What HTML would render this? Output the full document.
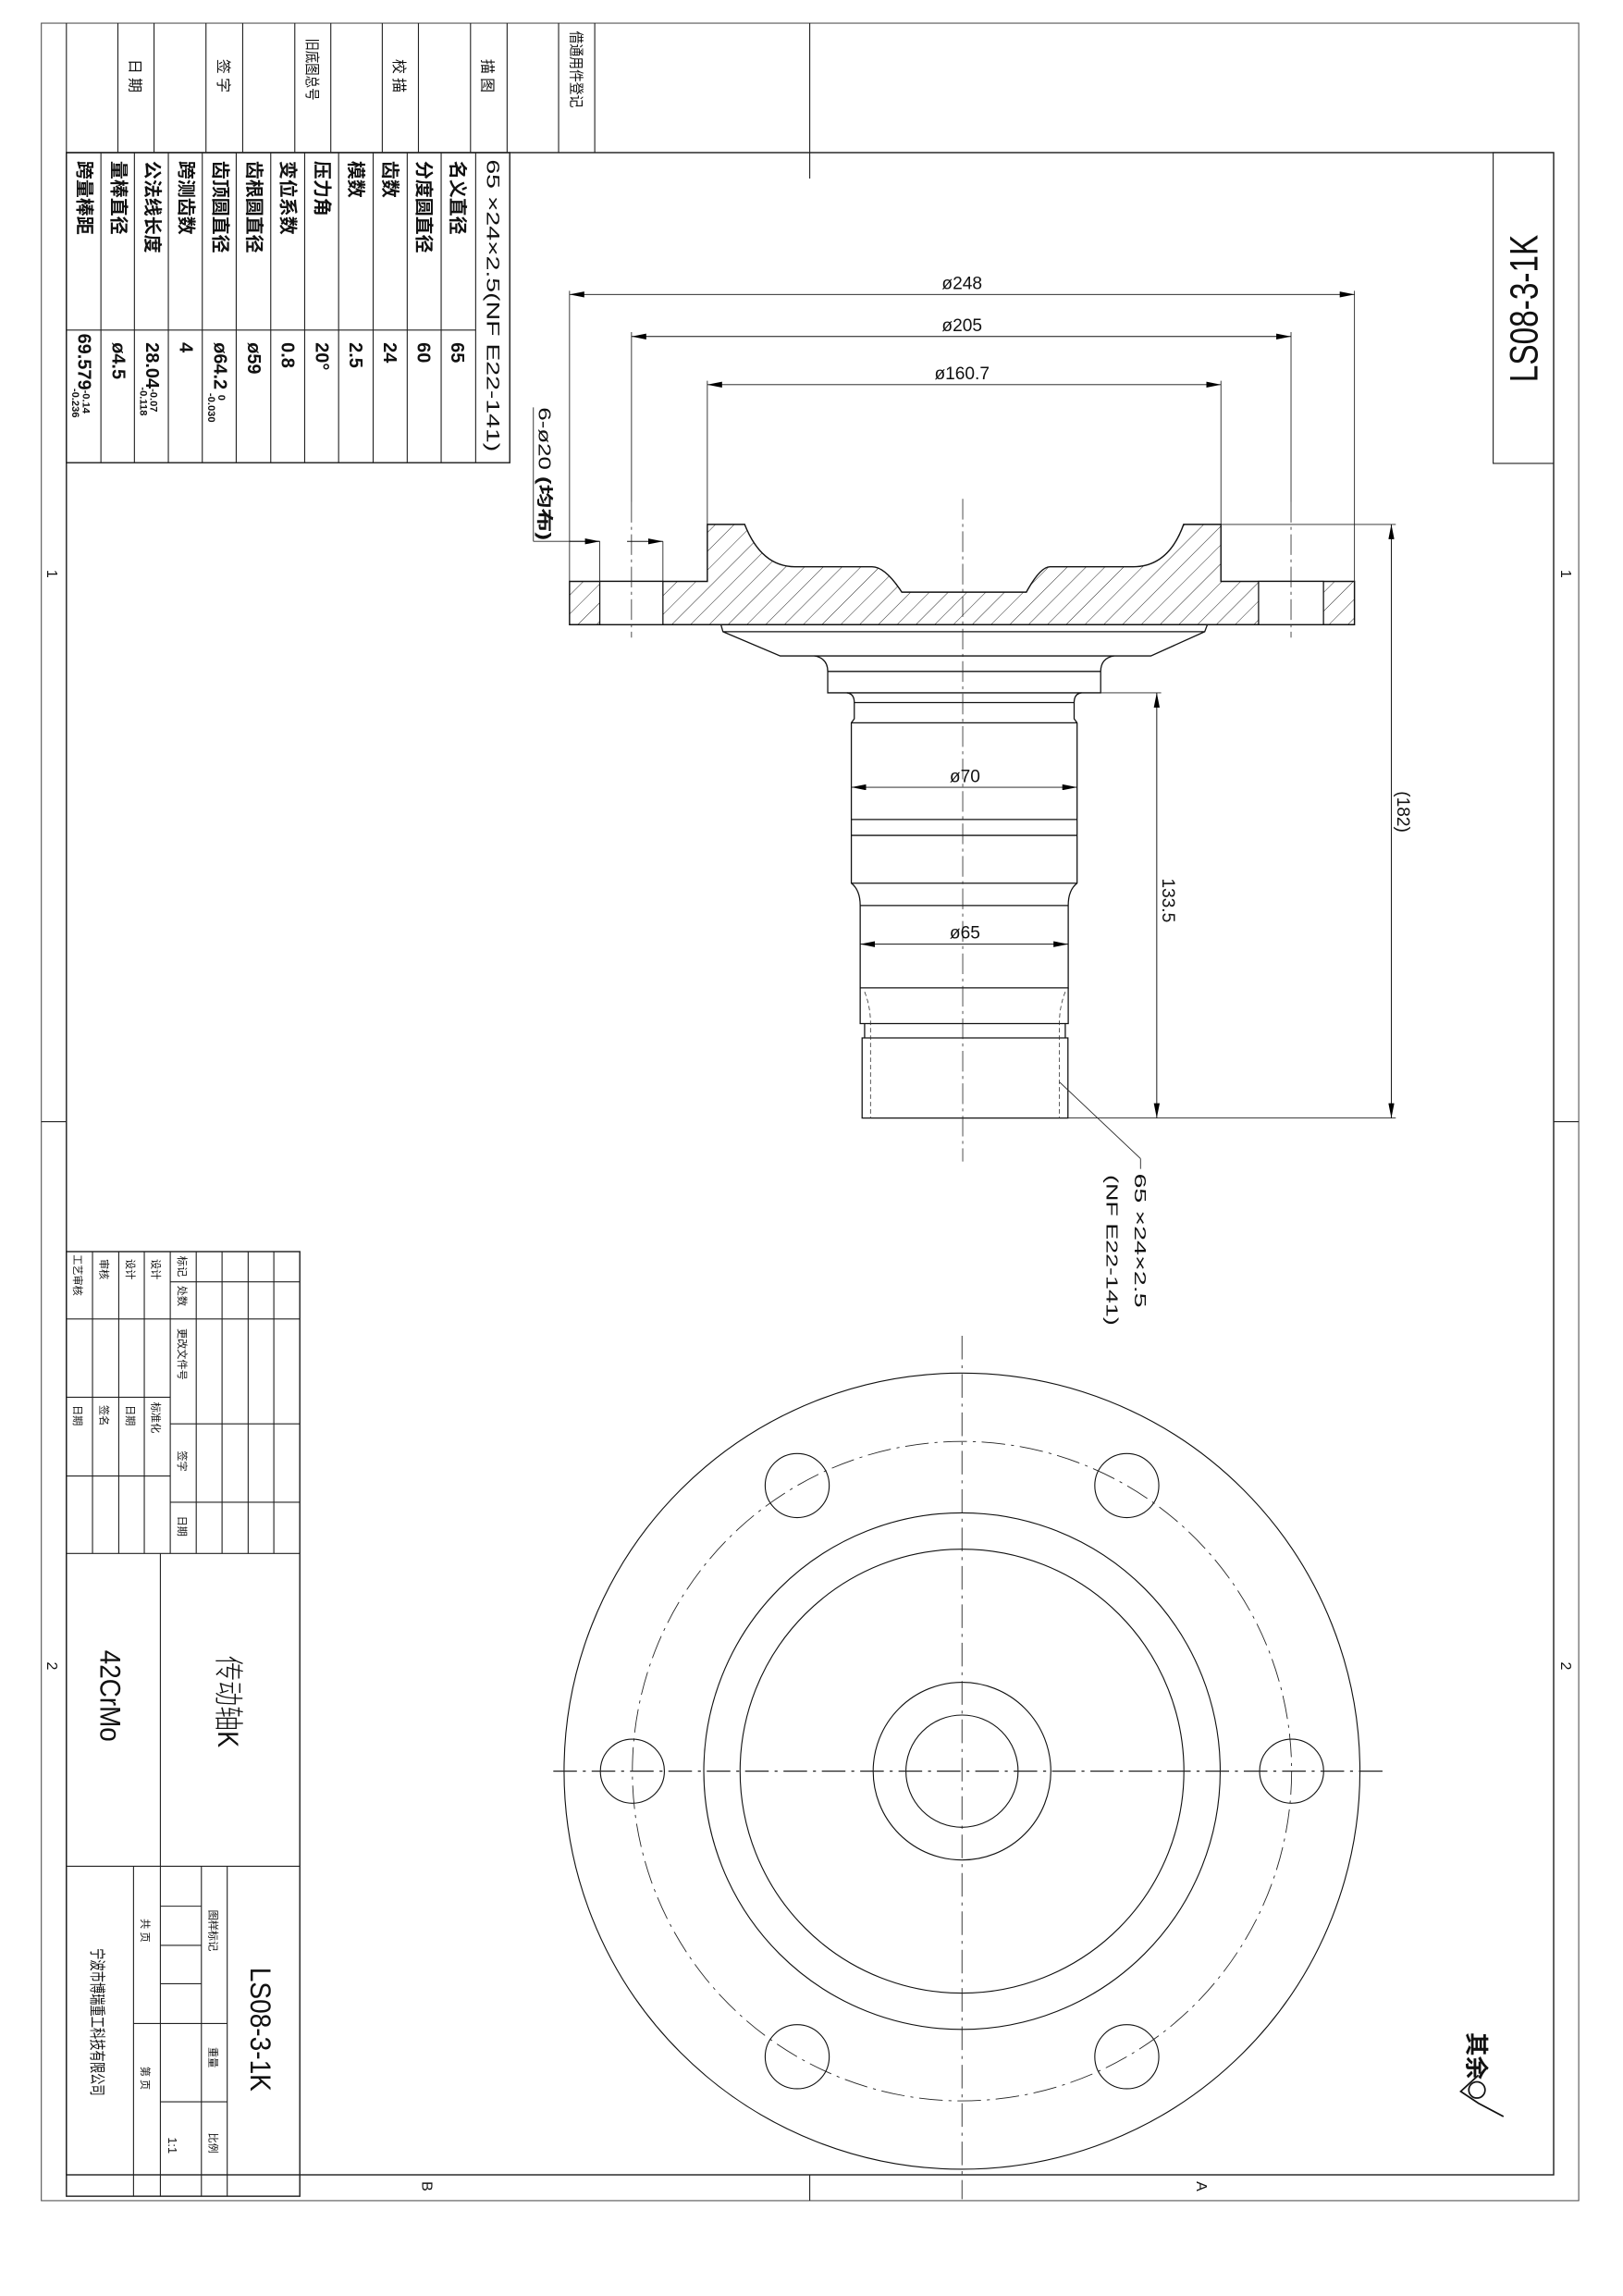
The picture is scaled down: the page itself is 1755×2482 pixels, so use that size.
<!DOCTYPE html>
<html><head><meta charset="utf-8"><style>
html,body{margin:0;padding:0;background:#fff}
svg{display:block}
text{font-family:"Liberation Sans","Noto Sans CJK SC",sans-serif;fill:#111}
.b{font-weight:bold}
</style></head><body>
<svg width="1755" height="2482" viewBox="0 0 1100 1555.6" preserveAspectRatio="none" xmlns="http://www.w3.org/2000/svg">
<defs>
<pattern id="h" patternUnits="userSpaceOnUse" width="9" height="9" patternTransform="rotate(45)">
<line x1="0" y1="0" x2="0" y2="9" stroke="#222" stroke-width="0.6"/>
</pattern>
<marker id="a" viewBox="0 0 10 4" refX="10" refY="2" markerWidth="10" markerHeight="4" markerUnits="userSpaceOnUse" orient="auto-start-reverse">
<path d="M0,0 L10,2 L0,4 Z" fill="#000"/>
</marker>
</defs>
<g fill="none" stroke="#222" stroke-width="0.7">
<rect x="28" y="15.7" width="1042" height="1475.3" stroke="#555"/>
<rect x="45" y="103.4" width="1008" height="1370.1" stroke-width="0.9"/>
<line x1="548.8" y1="15.7" x2="548.8" y2="121"/>
<line x1="28" y1="760" x2="45" y2="760"/>
<line x1="1053" y1="760" x2="1070" y2="760"/>
<line x1="548.8" y1="1473.5" x2="548.8" y2="1491"/>
<line x1="45" y1="15.7" x2="45" y2="103.4"/>
<line x1="79.9" y1="15.7" x2="79.9" y2="103.4"/><line x1="104.4" y1="15.7" x2="104.4" y2="103.4"/>
<line x1="139.6" y1="15.7" x2="139.6" y2="103.4"/><line x1="164.5" y1="15.7" x2="164.5" y2="103.4"/>
<line x1="199.8" y1="15.7" x2="199.8" y2="103.4"/><line x1="224.2" y1="15.7" x2="224.2" y2="103.4"/>
<line x1="259.1" y1="15.7" x2="259.1" y2="103.4"/><line x1="283.6" y1="15.7" x2="283.6" y2="103.4"/>
<line x1="318.9" y1="15.7" x2="318.9" y2="103.4"/><line x1="343.7" y1="15.7" x2="343.7" y2="103.4"/>
<line x1="378.6" y1="15.7" x2="378.6" y2="103.4"/><line x1="403.1" y1="15.7" x2="403.1" y2="103.4"/>
<rect x="45" y="103.4" width="300.5" height="210.1" stroke-width="0.9"/>
<line x1="68.4" y1="103.4" x2="68.4" y2="313.5"/><line x1="91.1" y1="103.4" x2="91.1" y2="313.5"/>
<line x1="114.1" y1="103.4" x2="114.1" y2="313.5"/><line x1="137.1" y1="103.4" x2="137.1" y2="313.5"/>
<line x1="160.1" y1="103.4" x2="160.1" y2="313.5"/><line x1="183.5" y1="103.4" x2="183.5" y2="313.5"/>
<line x1="206.5" y1="103.4" x2="206.5" y2="313.5"/><line x1="229.5" y1="103.4" x2="229.5" y2="313.5"/>
<line x1="252.9" y1="103.4" x2="252.9" y2="313.5"/><line x1="276" y1="103.4" x2="276" y2="313.5"/>
<line x1="299" y1="103.4" x2="299" y2="313.5"/><line x1="322.4" y1="103.4" x2="322.4" y2="313.5"/>
<line x1="45" y1="223.6" x2="322.4" y2="223.6"/>
<polyline points="1053,103.4 1012,103.4 1012,314 1053,314"/>
<rect x="45" y="848" width="158.2" height="640" stroke-width="0.9"/>
<line x1="62.7" y1="848" x2="62.7" y2="1052.5"/><line x1="80.5" y1="848" x2="80.5" y2="1052.5"/>
<line x1="97.8" y1="848" x2="97.8" y2="1052.5"/><line x1="115.4" y1="848" x2="115.4" y2="1052.5"/>
<line x1="133" y1="848" x2="133" y2="1052.5"/><line x1="150.5" y1="848" x2="150.5" y2="1052.5"/>
<line x1="168.2" y1="848" x2="168.2" y2="1052.5"/><line x1="185.6" y1="848" x2="185.6" y2="1052.5"/>
<line x1="115.4" y1="868.5" x2="203.2" y2="868.5"/><line x1="45" y1="893.6" x2="203.2" y2="893.6"/>
<line x1="45" y1="946.7" x2="115.4" y2="946.7"/><line x1="115.4" y1="964.7" x2="203.2" y2="964.7"/>
<line x1="45" y1="1000" x2="115.4" y2="1000"/><line x1="115.4" y1="1017.8" x2="203.2" y2="1017.8"/>
<line x1="45" y1="1052.5" x2="203.2" y2="1052.5"/>
<line x1="108.7" y1="1052.5" x2="108.7" y2="1488"/>
<line x1="45" y1="1264.4" x2="203.2" y2="1264.4"/>
<line x1="90.5" y1="1264.4" x2="90.5" y2="1488"/><line x1="136.5" y1="1264.4" x2="136.5" y2="1488"/>
<line x1="154" y1="1264.4" x2="154" y2="1488"/>
<line x1="90.5" y1="1371" x2="154" y2="1371"/><line x1="108.7" y1="1424" x2="154" y2="1424"/>
<line x1="108.7" y1="1291.5" x2="136.5" y2="1291.5"/><line x1="108.7" y1="1318" x2="136.5" y2="1318"/>
<line x1="108.7" y1="1344" x2="136.5" y2="1344"/>
</g>

<path d="M479.4,355.3 L504.7,355.3 Q516,384 538.9,384 L591,384 Q600,384 611.2,401.2 L695.6,401.2 Q705,384 711.7,384 L768,384 Q792,384 802.2,355.3 L827.5,355.3 L827.5,393.9 L918,393.9 L918,423.2 L386,423.2 L386,393.9 L479.4,393.9 Z" fill="url(#h)" stroke="#111" stroke-width="0.9"/>
<g fill="#fff" stroke="#111" stroke-width="0.8">
<rect x="406.5" y="393.9" width="42.8" height="29.3"/>
<rect x="853" y="393.9" width="44" height="29.3"/>
</g>
<g fill="none" stroke="#111" stroke-width="0.8">
<path d="M488.6,423.2 L490,428 L528.8,444.4 L780,444.4 L816.5,428 L818.3,423.2"/>
<line x1="490" y1="428" x2="816.5" y2="428"/>
<path d="M552,444.4 Q561,446 561,455 L561,469.4 L746,469.4 L746,455 Q746,446 755,444.4"/>
<line x1="561" y1="454.9" x2="746" y2="454.9"/>
<path d="M574,469.4 Q579,470 579,476 L579,487 L577,489.7 L577,598.4 Q583,603 583,613.5 L583,669.3 L724,669.3 L724,613.5 Q724,603 730,598.4 L730,489.7 L728,487 L728,476 Q728,470 733,469.4"/>
<line x1="579" y1="476" x2="728" y2="476"/>
<line x1="577" y1="489.7" x2="730" y2="489.7"/>
<line x1="577" y1="555.2" x2="730" y2="555.2"/>
<line x1="577" y1="566" x2="730" y2="566"/>
<line x1="577" y1="598.4" x2="730" y2="598.4"/>
<line x1="583" y1="613.5" x2="724" y2="613.5"/>
<path d="M583,669.3 L583,693.5 L724,693.5 L724,669.3"/>
<path d="M584.3,703.2 L584.3,757.5 L723.8,757.5 L723.8,703.2 Z"/>
<path d="M586,693.5 L586,703.2 M722,693.5 L722,703.2"/>
</g>
<g fill="none" stroke="#333" stroke-width="0.5" stroke-dasharray="3,2">
<path d="M586,672 Q590,682 590,693.5 L590,757.5"/>
<path d="M722,672 Q718,682 718,693.5 L718,757.5"/>
</g>
<g stroke="#222" stroke-width="0.5" stroke-dasharray="14,3,2,3" fill="none">
<line x1="652.5" y1="338" x2="652.5" y2="787"/>
<line x1="428" y1="340" x2="428" y2="432"/>
<line x1="875" y1="340" x2="875" y2="432"/>
</g>
<g stroke="#222" stroke-width="0.55" fill="none">
<line x1="386" y1="393.9" x2="386" y2="197"/>
<line x1="918" y1="393.9" x2="918" y2="197"/>
<line x1="428" y1="340" x2="428" y2="225"/>
<line x1="875" y1="340" x2="875" y2="225"/>
<line x1="479.4" y1="355.3" x2="479.4" y2="258"/>
<line x1="827.5" y1="355.3" x2="827.5" y2="258"/>
<line x1="406.5" y1="393.9" x2="406.5" y2="366.8"/>
<line x1="449.3" y1="393.9" x2="449.3" y2="366.8"/>
<line x1="361.5" y1="276" x2="361.5" y2="366.8"/>
<line x1="361.5" y1="366.8" x2="406.5" y2="366.8"/>
<line x1="827.5" y1="355.3" x2="946" y2="355.3"/>
<line x1="724" y1="757.5" x2="946" y2="757.5"/>
<line x1="746" y1="469.4" x2="787" y2="469.4"/>
<line x1="718" y1="733" x2="773" y2="785"/>
<line x1="773" y1="785" x2="773" y2="792"/>
</g>
<g stroke="#111" stroke-width="0.6" fill="none" marker-start="url(#a)" marker-end="url(#a)">
<line x1="386" y1="199.5" x2="918" y2="199.5"/>
<line x1="428" y1="228" x2="875" y2="228"/>
<line x1="479.4" y1="260.6" x2="827.5" y2="260.6"/>
<line x1="577" y1="533.4" x2="730" y2="533.4"/>
<line x1="583" y1="639.7" x2="724" y2="639.7"/>
<line x1="943" y1="355.3" x2="943" y2="757.5"/>
<line x1="784" y1="469.4" x2="784" y2="757.5"/>
</g>
<g stroke="#111" stroke-width="0.6" fill="none">
<line x1="386" y1="366.8" x2="406.5" y2="366.8" marker-end="url(#a)"/>
<line x1="425" y1="366.8" x2="449.3" y2="366.8" marker-end="url(#a)"/>
</g>
<g font-size="12" text-anchor="middle" style="font-weight:300">
<text x="652" y="196">ø248</text>
<text x="652" y="224.5">ø205</text>
<text x="652" y="257">ø160.7</text>
<text x="654" y="530">ø70</text>
<text x="654" y="636">ø65</text>
<text transform="translate(947,550) rotate(90)" text-anchor="middle">(182)</text>
<text transform="translate(788,610) rotate(90)" text-anchor="middle">133.5</text>
<text transform="translate(365,276) rotate(90)" text-anchor="start" font-size="11.5" textLength="90" lengthAdjust="spacingAndGlyphs">6-ø20 <tspan class="b">(均布)</tspan></text>
<text transform="translate(769,795) rotate(90)" text-anchor="start" font-size="11" textLength="91" lengthAdjust="spacingAndGlyphs">65 ×24×2.5</text>
<text transform="translate(750,796) rotate(90)" text-anchor="start" font-size="11" textLength="102" lengthAdjust="spacingAndGlyphs">(NF E22-141)</text>
</g>

<g fill="none" stroke="#111" stroke-width="0.7">
<circle cx="652" cy="1200" r="269.7"/>
<circle cx="652" cy="1200" r="175"/>
<circle cx="652" cy="1200" r="150.4"/>
<circle cx="652" cy="1200" r="60.2"/>
<circle cx="652" cy="1200" r="38"/>
<circle cx="428.6" cy="1200" r="21.7"/>
<circle cx="875.4" cy="1200" r="21.7"/>
<circle cx="540.3" cy="1006.5" r="21.7"/>
<circle cx="763.7" cy="1006.5" r="21.7"/>
<circle cx="540.3" cy="1393.5" r="21.7"/>
<circle cx="763.7" cy="1393.5" r="21.7"/>
</g>
<g fill="none" stroke="#222" stroke-width="0.55" stroke-dasharray="16,4,2,4">
<circle cx="652" cy="1200" r="223.4"/>
<line x1="375" y1="1200" x2="940" y2="1200" stroke-width="0.8"/>
<line x1="652" y1="905" x2="652" y2="1490"/>
</g>

<g font-size="10">
<text transform="translate(88,40) rotate(90)">日  期</text>
<text transform="translate(148,40) rotate(90)">签  字</text>
<text transform="translate(208,26) rotate(90)" textLength="42" lengthAdjust="spacingAndGlyphs">旧底图总号</text>
<text transform="translate(267,40) rotate(90)">校  描</text>
<text transform="translate(327,40) rotate(90)">描  图</text>
<text transform="translate(387,21) rotate(90)" textLength="52" lengthAdjust="spacingAndGlyphs">借通用件登记</text>
</g>
<g font-size="12.5" font-weight="bold">
<text transform="translate(306,109) rotate(90)">名义直径</text><text transform="translate(306,232) rotate(90)">65</text>
<text transform="translate(283,109) rotate(90)">分度圆直径</text><text transform="translate(283,232) rotate(90)">60</text>
<text transform="translate(260,109) rotate(90)">齿数</text><text transform="translate(260,232) rotate(90)">24</text>
<text transform="translate(237,109) rotate(90)">模数</text><text transform="translate(237,232) rotate(90)">2.5</text>
<text transform="translate(214,109) rotate(90)">压力角</text><text transform="translate(214,232) rotate(90)">20°</text>
<text transform="translate(191,109) rotate(90)">变位系数</text><text transform="translate(191,232) rotate(90)">0.8</text>
<text transform="translate(168,109) rotate(90)">齿根圆直径</text><text transform="translate(168,232) rotate(90)">ø59</text>
<text transform="translate(145,109) rotate(90)">齿顶圆直径</text><text transform="translate(145,232) rotate(90)">ø64.2 <tspan font-size="7" dy="-3">0</tspan><tspan font-size="7" dx="-5" dy="7">-0.030</tspan></text>
<text transform="translate(122,109) rotate(90)">跨测齿数</text><text transform="translate(122,232) rotate(90)">4</text>
<text transform="translate(99,109) rotate(90)">公法线长度</text><text transform="translate(99,232) rotate(90)">28.04<tspan font-size="7" dy="-3">-0.07</tspan><tspan font-size="7" dx="-17" dy="7">-0.118</tspan></text>
<text transform="translate(76,109) rotate(90)">量棒直径</text><text transform="translate(76,232) rotate(90)">ø4.5</text>
<text transform="translate(53,109) rotate(90)">跨量棒距</text><text transform="translate(53,226) rotate(90)">69.579<tspan font-size="7" dy="-3">-0.14</tspan><tspan font-size="7" dx="-17" dy="7">-0.236</tspan></text>
</g>
<text transform="translate(330,108) rotate(90)" font-size="12" textLength="198" lengthAdjust="spacingAndGlyphs">65 ×24×2.5(NF E22-141)</text>
<text transform="translate(1042,209) rotate(-90)" font-size="27" text-anchor="middle" textLength="100" lengthAdjust="spacingAndGlyphs" style="font-weight:300">LS08-3-1K</text>

<g font-size="7">
<text transform="translate(50,850) rotate(90)">工艺审核</text>
<text transform="translate(68,853) rotate(90)">审核</text>
<text transform="translate(86,853) rotate(90)">设计</text>
<text transform="translate(103,853) rotate(90)">设计</text>
<text transform="translate(50,952) rotate(90)">日期</text>
<text transform="translate(68,952) rotate(90)">签名</text>
<text transform="translate(86,952) rotate(90)">日期</text>
<text transform="translate(103,950) rotate(90)">标准化</text>
<text transform="translate(121,851) rotate(90)">标记</text>
<text transform="translate(121,871) rotate(90)">处数</text>
<text transform="translate(121,900) rotate(90)">更改文件号</text>
<text transform="translate(121,983) rotate(90)">签字</text>
<text transform="translate(121,1027) rotate(90)">日期</text>
<text transform="translate(142,1294) rotate(90)">图样标记</text>
<text transform="translate(142,1387) rotate(90)">重量</text>
<text transform="translate(142,1445) rotate(90)">比例</text>
<text transform="translate(114,1448) rotate(90)" font-size="8">1:1</text>
<text transform="translate(96,1300) rotate(90)">共    页</text>
<text transform="translate(96,1400) rotate(90)">第    页</text>
</g>
<text transform="translate(68,1118) rotate(90)" font-size="20" style="font-weight:300" textLength="62" lengthAdjust="spacingAndGlyphs">42CrMo</text>
<text transform="translate(148,1122) rotate(90)" font-size="20" style="font-weight:300" textLength="62" lengthAdjust="spacingAndGlyphs">传动轴K</text>
<text transform="translate(170,1333) rotate(90)" font-size="20" style="font-weight:300" textLength="84" lengthAdjust="spacingAndGlyphs">LS08-3-1K</text>
<text transform="translate(62,1320) rotate(90)" font-size="11" textLength="100" lengthAdjust="spacingAndGlyphs">宁波市博瑞重工科技有限公司</text>

<g font-size="10" style="font-weight:300">
<text transform="translate(32,386) rotate(90)">1</text>
<text transform="translate(32,1126) rotate(90)">2</text>
<text transform="translate(1058,386) rotate(90)">1</text>
<text transform="translate(1058,1126) rotate(90)">2</text>
<text transform="translate(286,1478) rotate(90)">B</text>
<text transform="translate(811,1478) rotate(90)">A</text>
</g>
<text transform="translate(995,1377) rotate(90)" font-size="16" font-weight="bold">其余</text>
<g fill="none" stroke="#111" stroke-width="1.1">
<circle cx="1001" cy="1416" r="5.5"/>
<polyline points="1002,1406 990,1417 1002,1425 1019,1434"/>
</g>
</svg>
</body></html>
